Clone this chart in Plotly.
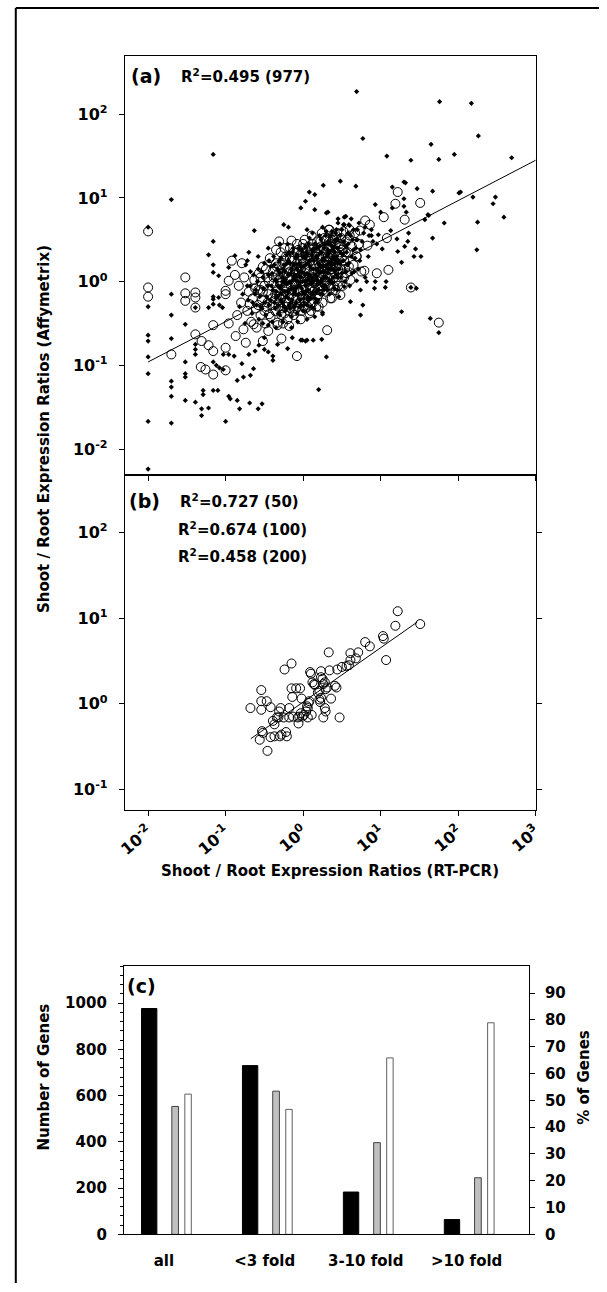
import plotly.graph_objects as go

FONT = "DejaVu Sans"

# ---------------- data (log10 of Shoot/Root ratios) ----------------
# panel (a): x = RT-PCR, y = Affymetrix ; small filled dots
a_dots = [
    (0.69, 2.27), (-1.16, 1.52), (-1.70, 0.98), (0.48, 1.20), (0.68, 1.14), (0.26, 1.15), (0.08, 1.07),
    (0.15, 1.04), (0.03, 0.96), (-0.03, 0.88), (0.15, 0.86), (0.30, 0.82), (0.32, 0.83), (0.53, 0.77),
    (0.55, 0.78), (0.45, 0.75), (-0.25, 0.68), (-0.19, 0.65),
    (1.76, 2.15), (2.17, 2.13), (0.77, 1.71), (2.26, 1.74), (1.65, 1.64), (1.08, 1.50), (1.39, 1.45),
    (1.75, 1.46), (1.95, 1.52), (2.69, 1.48), (1.30, 1.19), (1.32, 1.18), (1.15, 1.13), (1.47, 1.11),
    (1.67, 1.08), (2.01, 1.06), (2.03, 1.07), (2.19, 1.01), (2.48, 1.01), (2.45, 0.93), (2.59, 0.77),
    (2.25, 0.71), (1.82, 0.70), (1.61, 0.80), (1.57, 0.74), (1.30, 0.99), (1.30, 0.90), (1.33, 0.83),
    (0.93, 0.92), (1.00, 0.83), (1.15, 0.88),
    (1.36, 0.58), (1.21, 0.51), (1.31, 0.42), (1.45, 0.39), (1.35, 0.48), (1.22, 0.36), (1.02, 0.39),
    (0.97, 0.56), (1.13, 0.61), (1.43, 0.30), (1.52, 0.30), (1.27, 0.23), (1.67, 0.52), (1.62, 0.79),
    (2.24, 0.38), (1.07, 0.00), (1.06, -0.07), (0.93, 0.00), (0.82, 0.00), (0.74, -0.10), (0.92, -0.08),
    (1.46, -0.08), (1.39, -0.07), (0.77, -0.28), (0.74, -0.40), (0.61, -0.24), (1.27, -0.36), (1.64, -0.44),
    (1.75, -0.61), (0.30, -0.90), (0.20, -1.29), (-0.01, -0.70), (0.05, -0.70), (0.25, -0.37), (0.25, -0.39),
    (0.53, -0.06), (0.69, 0.01),
    (-2.00, -0.30), (-2.00, -0.64), (-2.00, -0.71), (-2.00, -0.90), (-2.00, -1.10), (-2.00, -1.67),
    (-2.00, -2.24), (-2.00, 0.65), (-1.70, -0.15), (-1.70, -0.40), (-1.70, -0.68), (-1.70, -1.19),
    (-1.70, -1.26), (-1.70, -1.37), (-1.70, -1.69), (-1.52, -0.51), (-1.52, -0.96), (-1.52, -1.10),
    (-1.52, -1.14), (-1.52, -1.42), (-1.39, -0.31), (-1.39, -0.75), (-1.39, -0.81), (-1.39, -0.87),
    (-1.39, -1.44), (-1.29, -1.30), (-1.29, -1.35), (-1.31, -1.52), (-1.31, -1.60), (-1.22, -1.51),
    (-1.22, -0.31), (-1.22, 0.32), (-1.16, 0.48), (-1.16, 0.20), (-1.16, 0.11), (-1.09, 0.07),
    (-1.16, -0.18), (-1.16, -0.21), (-1.09, -0.19), (-1.16, -0.27), (-1.08, -0.28), (-1.04, -0.31),
    (-1.16, -0.96), (-1.16, -1.30), (-1.10, -1.30), (-1.00, -1.67), (-0.96, -1.37), (-0.94, -1.40),
    (-0.85, -1.42), (-0.82, -1.52), (-0.69, -1.45), (-0.58, -1.52), (-0.53, -1.46), (-0.85, -1.18),
    (-0.77, -1.14), (-0.68, -1.12), (-0.64, -1.04), (-0.79, -0.98), (-0.89, -0.89), (-0.96, -0.87),
    (-1.03, -0.87), (-1.03, -1.05), (-1.08, -1.03), (-1.12, -1.00), (-0.63, 0.61), (-0.70, 0.35),
    (-0.72, 0.25), (-0.74, 0.20), (-0.57, -0.76), (-0.50, -0.81), (-0.45, -0.84), (-0.39, -0.89),
    (-0.39, -0.94), (-0.20, -0.80), (-0.03, -0.70), (0.03, -0.71), (-0.70, -0.87), (-0.62, -0.83),
    (-0.50, -0.67), (-0.33, -0.75), (-0.14, -0.67), (0.13, -0.70), (0.24, -0.69), (-0.96, 0.17),
    (-0.88, 0.31), (0.59, 0.68), (0.65, 0.62), (0.72, 0.70), (0.80, 0.65), (0.85, 0.55), (0.90, 0.48),
    (0.62, 0.75), (0.78, 0.58), (0.88, 0.62), (0.95, 0.45), (0.70, 0.50), (0.45, 0.70), (0.53, 0.68),
    (0.60, 0.67),
    # dense central cloud
    (-0.71, -0.22), (-0.68, -0.05), (-0.66, -0.38), (-0.64, 0.08), (-0.62, -0.15), (-0.60, -0.28),
    (-0.59, 0.00), (-0.57, -0.45), (-0.56, -0.18), (-0.54, 0.12), (-0.53, -0.32), (-0.51, -0.08),
    (-0.50, 0.22), (-0.48, -0.40), (-0.47, -0.18), (-0.45, 0.08), (-0.44, -0.28), (-0.42, 0.18),
    (-0.41, -0.05), (-0.40, -0.48), (-0.38, 0.30), (-0.37, -0.25), (-0.36, 0.02), (-0.35, -0.12),
    (-0.33, 0.15), (-0.32, -0.38), (-0.31, 0.25), (-0.30, -0.08), (-0.29, -0.22), (-0.27, 0.05),
    (-0.26, -0.48), (-0.25, 0.20), (-0.24, -0.02), (-0.23, -0.35), (-0.21, 0.32), (-0.20, -0.12),
    (-0.19, 0.08), (-0.18, -0.28), (-0.17, 0.22), (-0.16, -0.02), (-0.15, -0.42), (-0.14, 0.35),
    (-0.13, -0.15), (-0.12, 0.05), (-0.11, -0.30), (-0.10, 0.28), (-0.09, -0.08), (-0.08, 0.15),
    (-0.07, -0.48), (-0.06, 0.00), (-0.05, 0.40), (-0.04, -0.22), (-0.03, 0.18), (-0.02, -0.08),
    (-0.01, 0.30), (0.00, -0.35), (0.01, 0.10), (0.02, -0.15), (0.03, 0.42), (0.04, 0.00),
    (0.05, -0.28), (0.06, 0.22), (0.07, -0.10), (0.08, 0.52), (0.09, 0.08), (0.10, -0.20),
    (0.11, 0.32), (0.12, -0.02), (0.13, 0.15), (0.14, -0.32), (0.15, 0.45), (0.16, 0.05),
    (0.17, -0.12), (0.18, 0.28), (0.19, -0.22), (0.20, 0.12), (0.21, 0.55), (0.22, -0.02),
    (0.23, 0.35), (0.24, 0.18), (0.25, -0.15), (0.26, 0.45), (0.27, 0.05), (0.28, 0.25),
    (0.29, -0.05), (0.30, 0.60), (0.31, 0.32), (0.32, 0.10), (0.33, 0.45), (0.34, -0.15),
    (0.35, 0.20), (0.36, 0.55), (0.37, 0.00), (0.38, 0.38), (0.39, 0.15), (0.40, -0.08),
    (0.41, 0.50), (0.42, 0.25), (0.43, 0.62), (0.44, 0.05), (0.45, 0.40), (0.46, -0.18),
    (0.47, 0.22), (0.48, 0.55), (0.50, 0.10), (0.51, 0.32), (0.52, 0.68), (0.54, 0.00),
    (0.55, 0.42), (0.57, 0.20), (0.58, 0.58), (0.60, -0.05), (0.62, 0.30), (0.64, 0.50),
    (0.66, 0.12), (0.68, 0.40), (0.70, 0.62), (0.73, 0.25), (0.76, 0.48), (0.80, 0.05),
    (0.84, 0.30), (-0.78, -0.15), (-0.82, -0.30), (0.88, 0.55), (-0.75, -0.50), (0.05, 0.62),
    (-0.20, 0.45),
    (-0.42, -0.22), (-0.40, 0.10), (-0.39, -0.10), (-0.37, 0.20), (-0.36, -0.32), (-0.34, 0.00),
    (-0.33, -0.18), (-0.31, 0.12), (-0.30, -0.40), (-0.29, 0.28), (-0.28, -0.05), (-0.27, -0.25),
    (-0.26, 0.15), (-0.24, -0.12), (-0.23, 0.02), (-0.22, -0.32), (-0.21, 0.22), (-0.20, -0.02),
    (-0.19, -0.20), (-0.18, 0.35), (-0.17, 0.00), (-0.16, -0.25), (-0.15, 0.15), (-0.14, -0.08),
    (-0.13, 0.40), (-0.12, -0.30), (-0.11, 0.08), (-0.10, -0.15), (-0.09, 0.20), (-0.08, -0.38),
    (-0.07, 0.30), (-0.06, -0.05), (-0.05, 0.12), (-0.04, -0.30), (-0.03, 0.05), (-0.02, 0.38),
    (-0.01, -0.12), (0.00, 0.18), (0.01, -0.28), (0.02, 0.28), (0.03, -0.05), (0.04, 0.35),
    (0.05, 0.10), (0.06, -0.18), (0.07, 0.45), (0.08, 0.02), (0.09, 0.18), (0.10, -0.30),
    (0.11, 0.05), (0.12, 0.38), (0.13, -0.12), (0.14, 0.25), (0.15, 0.08), (0.16, -0.25),
    (0.17, 0.40), (0.18, 0.15), (0.19, -0.02), (0.20, 0.32), (0.21, 0.10), (0.22, -0.15),
    (0.23, 0.50), (0.24, 0.02), (0.25, 0.25), (0.26, -0.05), (0.27, 0.40), (0.28, 0.12),
    (0.29, 0.55), (0.30, 0.20), (0.31, -0.10), (0.32, 0.38), (0.33, 0.15), (0.34, 0.02),
    (0.35, 0.45), (0.36, 0.25), (0.37, 0.60), (0.38, -0.02), (0.39, 0.30), (0.40, 0.42),
    (0.41, 0.12), (0.42, 0.58), (0.43, 0.30), (0.44, -0.10), (0.45, 0.50), (0.46, 0.15),
    (0.48, 0.35), (0.49, 0.05), (0.50, 0.62), (0.52, 0.25), (0.53, 0.48), (0.55, 0.12),
    (0.56, 0.35), (0.58, 0.45), (0.59, 0.22), (0.61, 0.55), (0.63, 0.10), (0.65, 0.38),
    (0.67, 0.28), (0.69, 0.50), (0.71, 0.15), (0.74, 0.38), (-0.44, 0.25), (-0.46, -0.05),
    (-0.49, -0.25), (-0.52, 0.05), (-0.55, -0.30), (-0.58, 0.15), (-0.61, -0.10), (-0.65, -0.25),
    (-0.68, 0.12), (-0.72, -0.05), (-0.52, -0.50), (-0.45, -0.52), (-0.35, -0.55), (-0.15, -0.55),
    (0.05, -0.45), (0.15, -0.42), (-0.58, 0.30), (-0.45, 0.40), (-0.30, 0.45), (0.12, 0.58),
    (0.25, 0.65),
    (-0.35, -0.20), (-0.33, -0.05), (-0.32, -0.28), (-0.30, 0.10), (-0.28, -0.15), (-0.27, 0.00),
    (-0.25, -0.30), (-0.24, 0.12), (-0.22, -0.18), (-0.21, -0.02), (-0.19, 0.25), (-0.18, -0.10),
    (-0.17, -0.32), (-0.16, 0.10), (-0.14, -0.22), (-0.13, 0.02), (-0.12, 0.20), (-0.11, -0.12),
    (-0.10, 0.02), (-0.09, -0.25), (-0.08, 0.32), (-0.07, 0.08), (-0.06, -0.15), (-0.05, 0.22),
    (-0.04, -0.05), (-0.03, -0.28), (-0.02, 0.12), (-0.01, 0.00), (0.00, 0.30), (0.01, -0.20),
    (0.02, 0.08), (0.03, 0.20), (0.04, -0.12), (0.05, 0.32), (0.06, 0.02), (0.07, -0.22),
    (0.08, 0.25), (0.09, -0.02), (0.10, 0.15), (0.11, -0.15), (0.12, 0.28), (0.13, 0.00),
    (0.14, 0.38), (0.15, -0.20), (0.16, 0.15), (0.17, 0.30), (0.18, 0.02), (0.19, 0.22),
    (0.20, -0.10), (0.21, 0.42), (0.22, 0.20), (0.23, 0.00), (0.24, 0.35), (0.25, 0.12),
    (0.26, 0.28), (0.27, -0.10), (0.28, 0.45), (0.29, 0.18), (0.30, 0.05), (0.31, 0.30),
    (0.32, 0.48), (0.33, 0.22), (0.34, 0.35), (0.35, 0.00), (0.36, 0.15), (0.37, 0.42),
    (0.38, 0.28), (0.39, 0.05), (0.40, 0.35), (0.41, 0.22), (0.42, 0.48), (0.43, 0.08),
    (0.44, 0.40), (0.45, 0.25),
]

# panel (a): open circles
a_circles = [
    (-2.00, 0.60), (-2.00, -0.07), (-2.00, -0.18), (-1.70, -0.87), (-1.52, 0.05), (-1.52, -0.14),
    (-1.52, -0.23), (-1.39, -0.13), (-1.39, -0.19), (-1.39, -0.31), (-1.39, -0.63), (-1.31, -0.71),
    (-1.22, -0.76), (-1.16, -0.83), (-1.16, -0.52), (-1.00, -0.79), (-1.00, -1.06), (-1.32, -1.02),
    (-1.26, -1.05), (-1.16, -1.11), (-1.00, -0.15), (-1.00, -0.11), (-0.96, 0.01), (-0.92, 0.25),
    (-0.79, 0.22), (-0.88, 0.08), (-0.96, -0.50), (-0.87, -0.65), (-0.77, -0.57), (-0.74, -0.73),
    (-0.64, -0.51), (-0.52, -0.71), (-0.45, -0.59), (-0.28, -0.68), (-0.08, -0.89), (0.31, -0.58),
    (-0.31, 0.48), (-0.15, 0.49), (-0.24, 0.40), (0.33, 0.62), (0.48, -0.16), (-0.44, -0.39),
    (-0.33, -0.49), (-0.18, -0.53), (-0.55, -0.10), (-0.69, -0.27), (-0.83, -0.05),
    (1.22, 1.07), (1.19, 0.93), (1.51, 0.94), (1.04, 0.77), (1.31, 0.74), (0.80, 0.73), (0.86, 0.68),
    (1.08, 0.52), (1.10, 0.14), (1.39, -0.07), (1.75, -0.49), (0.35, -0.20), (0.95, 0.10), (0.79, 0.13),
    (0.69, 0.30), (0.83, 0.43), (0.60, 0.62), (0.73, 0.61), (0.29, 0.50), (0.51, 0.05), (0.59, 0.18),
    # dense central cloud
    (-0.72, -0.35), (-0.70, -0.12), (-0.67, -0.48), (-0.65, -0.20), (-0.63, 0.02), (-0.61, -0.32),
    (-0.60, -0.55), (-0.58, -0.10), (-0.57, 0.10), (-0.55, -0.40), (-0.53, -0.22), (-0.52, 0.18),
    (-0.50, -0.05), (-0.49, -0.50), (-0.47, -0.30), (-0.46, 0.05), (-0.45, -0.15), (-0.43, 0.28),
    (-0.42, -0.42), (-0.40, -0.20), (-0.39, 0.12), (-0.38, -0.02), (-0.36, -0.35), (-0.35, 0.22),
    (-0.34, -0.10), (-0.33, -0.52), (-0.31, 0.02), (-0.30, -0.25), (-0.29, 0.35), (-0.28, -0.40),
    (-0.26, 0.10), (-0.25, -0.15), (-0.24, -0.30), (-0.23, 0.25), (-0.22, -0.05), (-0.20, -0.45),
    (-0.19, 0.15), (-0.18, -0.20), (-0.17, 0.40), (-0.16, -0.32), (-0.15, 0.05), (-0.14, -0.10),
    (-0.13, 0.28), (-0.12, -0.40), (-0.11, 0.18), (-0.10, -0.22), (-0.09, 0.00), (-0.08, 0.45),
    (-0.07, -0.30), (-0.06, 0.12), (-0.05, -0.12), (-0.04, 0.32), (-0.03, -0.45), (-0.02, 0.05),
    (-0.01, -0.20), (0.00, 0.22), (0.01, -0.05), (0.02, 0.50), (0.03, -0.32), (0.04, 0.15),
    (0.05, -0.15), (0.06, 0.35), (0.07, 0.00), (0.08, -0.38), (0.09, 0.25), (0.10, -0.10),
    (0.11, 0.55), (0.12, 0.10), (0.13, -0.25), (0.14, 0.40), (0.15, -0.02), (0.16, 0.20),
    (0.17, -0.30), (0.18, 0.48), (0.19, 0.05), (0.20, -0.15), (0.21, 0.30), (0.22, 0.12),
    (0.23, -0.05), (0.24, 0.58), (0.25, -0.25), (0.26, 0.22), (0.27, 0.38), (0.28, 0.02),
    (0.29, -0.12), (0.30, 0.50), (0.31, 0.15), (0.32, 0.30), (0.33, -0.05), (0.34, 0.62),
    (0.35, 0.08), (0.36, 0.42), (0.37, -0.20), (0.38, 0.25), (0.39, 0.52), (0.40, 0.05),
    (0.41, 0.35), (0.42, -0.10), (0.43, 0.18), (0.44, 0.58), (0.45, 0.30), (0.46, 0.00),
    (0.47, 0.45), (0.48, 0.15), (0.50, 0.38), (0.51, -0.05), (0.52, 0.60), (0.53, 0.25),
    (0.55, 0.48), (0.56, 0.10), (0.58, 0.35), (0.60, 0.55), (0.61, 0.02), (0.63, 0.42),
    (0.65, 0.20), (0.67, 0.58), (0.69, 0.30), (0.72, 0.45), (0.75, 0.12), (-0.80, -0.25),
    (-0.76, 0.05), (-0.85, -0.40),
    (-0.40, -0.28), (-0.38, 0.05), (-0.36, -0.15), (-0.34, 0.18), (-0.32, -0.30), (-0.30, -0.02),
    (-0.28, 0.20), (-0.27, -0.18), (-0.25, 0.08), (-0.24, -0.38), (-0.22, 0.30), (-0.21, -0.10),
    (-0.20, 0.05), (-0.18, -0.35), (-0.17, 0.12), (-0.16, -0.05), (-0.15, 0.25), (-0.13, -0.20),
    (-0.12, 0.35), (-0.11, -0.02), (-0.10, 0.10), (-0.09, -0.32), (-0.08, 0.22), (-0.07, -0.12),
    (-0.06, 0.38), (-0.05, 0.02), (-0.04, -0.25), (-0.03, 0.15), (-0.02, -0.35), (-0.01, 0.28),
    (0.00, -0.10), (0.01, 0.05), (0.02, 0.35), (0.03, -0.20), (0.04, 0.25), (0.05, 0.02),
    (0.06, -0.30), (0.07, 0.42), (0.08, 0.12), (0.09, -0.08), (0.10, 0.30), (0.11, -0.25),
    (0.12, 0.45), (0.13, 0.05), (0.14, 0.20), (0.15, -0.10), (0.16, 0.35), (0.17, 0.02),
    (0.18, -0.20), (0.19, 0.40), (0.20, 0.22), (0.21, -0.05), (0.22, 0.48), (0.23, 0.10),
    (0.24, 0.30), (0.25, 0.05), (0.26, -0.10), (0.27, 0.52), (0.28, 0.15), (0.29, 0.35),
    (0.30, -0.02), (0.31, 0.42), (0.32, 0.20), (0.33, 0.05), (0.34, 0.48), (0.35, 0.28),
    (0.36, -0.08), (0.37, 0.15), (0.38, 0.55), (0.39, 0.32), (0.40, 0.10), (0.42, 0.45),
    (0.44, 0.22), (0.45, -0.05), (0.47, 0.35), (0.49, 0.52), (0.50, 0.20), (0.52, 0.40),
    (0.54, 0.15), (0.57, 0.50), (-0.44, 0.00), (-0.46, -0.25), (-0.48, 0.15), (-0.50, -0.35),
    (-0.52, -0.12), (-0.55, 0.05), (-0.58, -0.28), (-0.62, -0.08), (-0.35, 0.38), (0.00, 0.45),
    (-0.26, -0.50), (0.10, -0.35), (0.20, -0.30),
    (-0.33, 0.08), (-0.31, -0.18), (-0.29, 0.05), (-0.27, -0.32), (-0.26, 0.22), (-0.23, -0.12),
    (-0.21, 0.10), (-0.19, -0.25), (-0.17, 0.28), (-0.15, -0.15), (-0.13, 0.12), (-0.11, -0.35),
    (-0.09, 0.15), (-0.07, 0.35), (-0.05, -0.25), (-0.03, 0.00), (-0.01, 0.40), (0.01, -0.30),
    (0.03, 0.10), (0.05, 0.28), (0.07, -0.18), (0.09, 0.02), (0.11, 0.38), (0.13, -0.12),
    (0.15, 0.15), (0.17, 0.35), (0.19, -0.10), (0.21, 0.18), (0.23, 0.42), (0.25, 0.15),
    (0.27, -0.02), (0.29, 0.30), (0.31, 0.05), (0.33, 0.40), (0.35, 0.18), (0.37, 0.32),
    (0.39, -0.05), (0.41, 0.25), (0.43, 0.50), (0.45, 0.15), (0.48, 0.42), (0.50, 0.28),
    (0.53, 0.05), (0.55, 0.35),
]

# regression line of panel (a): log y = intercept + slope * log x
a_fit_slope = 0.482
a_fit_intercept = 0.004
a_fit_span = [-2.0, 3.0]

# panel (b): open circles
b_circles = [
    (-0.68, -0.05), (-0.54, 0.16), (-0.54, 0.03), (-0.54, -0.07), (-0.47, 0.03), (-0.42, -0.04),
    (-0.53, -0.32), (-0.52, -0.34), (-0.56, -0.42), (-0.46, -0.55), (-0.42, -0.39), (-0.37, -0.38),
    (-0.39, -0.20), (-0.37, -0.24), (-0.34, -0.16), (-0.31, -0.09), (-0.29, -0.05), (-0.32, -0.16),
    (-0.30, -0.38), (-0.28, -0.36), (-0.22, -0.33), (-0.21, -0.38), (-0.25, -0.16), (-0.24, 0.40),
    (-0.18, -0.05), (-0.15, 0.47), (-0.15, 0.18), (-0.14, 0.08), (-0.09, 0.18), (-0.04, 0.18),
    (-0.18, -0.16), (-0.13, -0.15), (-0.07, -0.16), (-0.06, -0.23), (-0.05, -0.15), (-0.03, -0.11),
    (-0.01, -0.15), (0.01, -0.13), (0.04, -0.09), (0.05, -0.03), (0.07, 0.01), (0.08, 0.03),
    (0.11, -0.13), (0.06, -0.16), (0.09, 0.37), (0.10, 0.35), (0.12, 0.25), (0.14, 0.23),
    (0.15, 0.22), (0.21, 0.15), (0.23, 0.38), (0.26, 0.23), (0.28, 0.25), (0.21, 0.05),
    (0.23, 0.07), (0.26, -0.16), (0.28, -0.05), (0.29, -0.09), (0.22, 0.02), (0.33, 0.60),
    (0.34, 0.39), (0.36, 0.06), (0.31, 0.19), (0.41, 0.21), (0.43, 0.19), (0.44, 0.40),
    (0.47, -0.16), (0.50, 0.43), (0.56, 0.44), (0.59, 0.45), (0.61, 0.59), (0.61, 0.51),
    (0.68, 0.53), (0.71, 0.60), (0.80, 0.72), (0.86, 0.67), (1.04, 0.76), (1.07, 0.51),
    (1.19, 0.91), (1.51, 0.93), (1.22, 1.08), (1.03, 0.79), (0.23, 0.31), (-0.02, 0.06),
    (0.06, -0.05), (0.19, 0.13), (0.25, 0.29), (0.29, 0.17),
]
b_fit_slope = 0.634
b_fit_intercept = 0.02
b_fit_span = [-0.675, 1.47]

x_decades = [-2, -1, 0, 1, 2, 3]
y_decades_a = [-2, -1, 0, 1, 2]
y_decades_b = [-1, 0, 1, 2]


def dec_label(n):
    return "10<sup>%d</sup>" % n


r2_a_text = "R<sup>2</sup>=0.495 (977)"
r2_b_texts = ["R<sup>2</sup>=0.727 (50)", "R<sup>2</sup>=0.674 (100)", "R<sup>2</sup>=0.458 (200)"]

# panel (c)
categories = ["all", "<3 fold", "3-10 fold", ">10 fold"]
n_genes = [977, 730, 183, 64]
pct_gray = [47.7, 53.4, 34.2, 21.1]
pct_white = [52.3, 46.6, 65.8, 78.9]

# ---------------- figure ----------------
W, H = 607, 1292


def px(x):
    return x / W


def py(y):
    return 1 - y / H


fig = go.Figure()

fig.add_trace(go.Scatter(
    x=[p[0] for p in a_dots], y=[p[1] for p in a_dots], mode="markers",
    marker=dict(symbol="diamond", size=4, color="black", line=dict(width=0)),
    xaxis="x", yaxis="y", hoverinfo="skip"))
fig.add_trace(go.Scatter(
    x=[p[0] for p in a_circles], y=[p[1] for p in a_circles], mode="markers",
    marker=dict(symbol="circle-open", size=9, color="black", line=dict(width=1, color="black")),
    xaxis="x", yaxis="y", hoverinfo="skip"))
fig.add_trace(go.Scatter(
    x=a_fit_span, y=[a_fit_intercept + a_fit_slope * v for v in a_fit_span], mode="lines",
    line=dict(color="black", width=1), xaxis="x", yaxis="y", hoverinfo="skip"))

fig.add_trace(go.Scatter(
    x=[p[0] for p in b_circles], y=[p[1] for p in b_circles], mode="markers",
    marker=dict(symbol="circle-open", size=9, color="black", line=dict(width=1, color="black")),
    xaxis="x2", yaxis="y2", hoverinfo="skip"))
fig.add_trace(go.Scatter(
    x=b_fit_span, y=[b_fit_intercept + b_fit_slope * v for v in b_fit_span], mode="lines",
    line=dict(color="black", width=1), xaxis="x2", yaxis="y2", hoverinfo="skip"))

fig.add_trace(go.Bar(
    x=categories, y=n_genes, xaxis="x3", yaxis="y3", offset=-0.221, width=0.152,
    marker=dict(color="black", line=dict(color="black", width=1)), hoverinfo="skip"))
fig.add_trace(go.Bar(
    x=categories, y=pct_gray, xaxis="x3", yaxis="y4", offset=0.079, width=0.066,
    marker=dict(color="#c0c0c0", line=dict(color="#404040", width=1)), hoverinfo="skip"))
fig.add_trace(go.Bar(
    x=categories, y=pct_white, xaxis="x3", yaxis="y4", offset=0.208, width=0.064,
    marker=dict(color="white", line=dict(color="#606060", width=1)), hoverinfo="skip"))

tickfont = dict(family=FONT, size=15, color="black", weight="bold")
tickfont_log = dict(family=FONT, size=16, color="black", weight="bold")
base_axis = dict(showgrid=False, zeroline=False, showline=True, linecolor="black", linewidth=1,
                 ticks="outside", ticklen=5, tickwidth=1, tickcolor="black")

dom_x_ab = [px(120), px(542)]
fig.update_layout(
    width=W, height=H, margin=dict(l=0, r=0, t=0, b=0, pad=0),
    paper_bgcolor="white", plot_bgcolor="white", showlegend=False,
    barmode="overlay",
    font=dict(family=FONT, size=15, color="black"),
    xaxis=dict(domain=dom_x_ab, anchor="y", range=[-2.30, 3.0], tickvals=x_decades,
               showticklabels=False, mirror=True, tickfont=tickfont_log, **base_axis),
    yaxis=dict(domain=[py(478.3), py(56)], anchor="x", range=[-2.31, 2.70], tickvals=y_decades_a,
               ticktext=[dec_label(v) for v in y_decades_a], mirror=True, ticklabelstandoff=8,
               tickfont=tickfont_log, **base_axis),
    xaxis2=dict(domain=dom_x_ab, anchor="y2", range=[-2.30, 3.0], tickvals=x_decades,
                ticktext=[dec_label(v) for v in x_decades], tickangle=-40, mirror=True,
                tickfont=tickfont_log, **base_axis),
    yaxis2=dict(domain=[py(815.7), py(478.3)], anchor="x2", range=[-1.24, 2.67],
                tickvals=y_decades_b, ticktext=[dec_label(v) for v in y_decades_b],
                mirror="ticks", ticklabelstandoff=8, tickfont=tickfont_log, **base_axis),
    xaxis3=dict(domain=[px(119), px(535)], anchor="y3", type="category",
                categoryorder="array", categoryarray=categories, range=[-0.396, 3.617],
                showgrid=False, zeroline=False, showline=True, linecolor="black", linewidth=1,
                mirror=True, ticks="", tickfont=tickfont, ticklabelstandoff=13),
    yaxis3=dict(domain=[py(1243), py(973)], anchor="x3", range=[0, 1160], dtick=200, tick0=0,
                minor=dict(dtick=40, ticks="outside", ticklen=3, tickcolor="black"),
                ticklabelstandoff=8, tickfont=tickfont, **base_axis),
    yaxis4=dict(overlaying="y3", anchor="x3", side="right", range=[0, 100],
                tickvals=[0, 10, 20, 30, 40, 50, 60, 70, 80, 90], ticklabelstandoff=7,
                tickfont=tickfont, **base_axis),
)

ann_font = dict(family=FONT, size=15, color="black", weight="bold")
big_font = dict(family=FONT, size=19, color="black", weight="bold")
annotations = [
    dict(text="(a)", x=px(124), y=py(77), xanchor="left", yanchor="middle", font=big_font),
    dict(text=r2_a_text, x=px(176), y=py(77), xanchor="left", yanchor="middle", font=ann_font),
    dict(text="(b)", x=px(122), y=py(505), xanchor="left", yanchor="middle", font=big_font),
    dict(text="(c)", x=px(120), y=py(993), xanchor="left", yanchor="middle", font=big_font),
    dict(text="Shoot / Root Expression Ratios (Affymetrix)", x=px(37), y=py(432), textangle=-90,
         xanchor="center", yanchor="middle", font=ann_font),
    dict(text="Shoot / Root Expression Ratios (RT-PCR)", x=px(331), y=py(877),
         xanchor="center", yanchor="middle", font=ann_font),
    dict(text="Number of Genes", x=px(37), y=py(1085), textangle=-90,
         xanchor="center", yanchor="middle", font=ann_font),
    dict(text="% of Genes", x=px(592), y=py(1085), textangle=-90,
         xanchor="center", yanchor="middle", font=ann_font),
]
for t, xx, yy in zip(r2_b_texts, [175, 173, 173], [505, 533, 560]):
    annotations.append(dict(text=t, x=px(xx), y=py(yy), xanchor="left",
                            yanchor="middle", font=ann_font))
for a in annotations:
    a.update(xref="paper", yref="paper", showarrow=False)
fig.update_layout(annotations=annotations)

# outer frame (left and top edges)
fig.update_layout(shapes=[
    dict(type="line", xref="paper", yref="paper", x0=px(8), x1=1.0, y0=py(8), y1=py(8),
         line=dict(color="black", width=2)),
    dict(type="line", xref="paper", yref="paper", x0=px(8), x1=px(8), y0=py(8), y1=0.0,
         line=dict(color="black", width=2)),
])

fig.write_html("out.html")
